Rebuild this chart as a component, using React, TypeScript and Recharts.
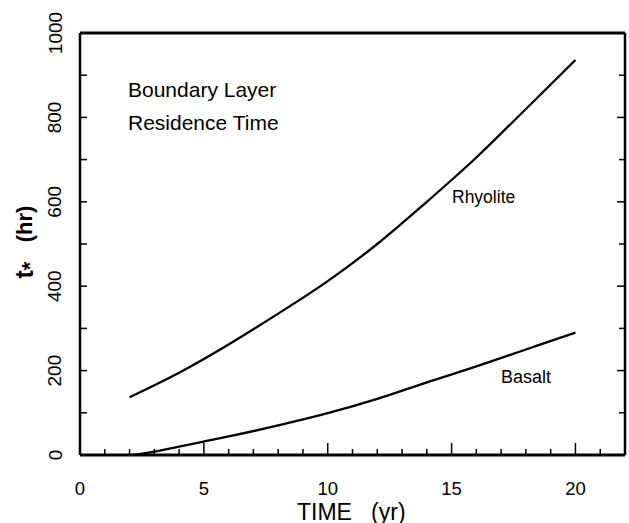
import React from 'react';
import { LineChart, Line, XAxis, YAxis, Customized } from 'recharts';

// Rhyolite curve (time in yr, t* in hr)
const rhyoliteYears = [2, 4, 6, 8, 10, 12, 14, 16, 18, 20];
const rhyoliteHours = [137, 195, 262, 335, 412, 500, 600, 705, 820, 936];

// Basalt curve
const basaltYears = [2.1, 3, 4, 5, 6, 8, 10, 12, 14, 16, 18, 20];
const basaltHours = [0, 8, 20, 32, 44, 70, 99, 133, 172, 210, 250, 290];

const xTicks = [0, 1, 2, 3, 4, 5, 6, 7, 8, 9, 10, 11, 12, 13, 14, 15, 16, 17, 18, 19, 20, 21, 22];
const yTicks = [0, 100, 200, 300, 400, 500, 600, 700, 800, 900, 1000];

const rhyoliteData = rhyoliteYears.map((x, i) => ({ x, t: rhyoliteHours[i] }));
const basaltData = basaltYears.map((x, i) => ({ x, t: basaltHours[i] }));

const FONT = 'Liberation Sans, Arial, Helvetica, sans-serif';

// layout
const W = 629;
const H = 523;
const margin = { top: 32, right: 3, bottom: 28, left: 40 };
const X_AXIS_H = 40;
const TOP_AXIS_H = 1;
const Y_AXIS_W = 40;
const RIGHT_AXIS_W = 1;
const plotLeft = margin.left + Y_AXIS_W;
const plotRight = W - margin.right - RIGHT_AXIS_W;
const plotTop = margin.top + TOP_AXIS_H;
const plotBottom = H - margin.bottom - X_AXIS_H;

// ticks point into the plot on all four sides
const BottomTick = (props: any) => {
  const { x, payload } = props;
  const major = payload.value % 5 === 0 && payload.value <= 20;
  return (
    <g>
      <line x1={x} x2={x} y1={plotBottom} y2={plotBottom - (major ? 12 : 6)} stroke="#000" strokeWidth={1.5} />
      {major && (
        <text x={x} y={plotBottom + 39.5} textAnchor="middle" fontSize={18.5} fontFamily={FONT} fill="#000">
          {payload.value}
        </text>
      )}
    </g>
  );
};

const TopTick = (props: any) => {
  const { x, payload } = props;
  const major = payload.value % 5 === 0 && payload.value <= 20;
  return <line x1={x} x2={x} y1={plotTop} y2={plotTop + (major ? 10 : 6)} stroke="#000" strokeWidth={1.5} />;
};

const LeftTick = (props: any) => {
  const { y, payload } = props;
  const major = payload.value % 200 === 0;
  const lx = plotLeft - 25;
  return (
    <g>
      <line x1={plotLeft} x2={plotLeft + 7} y1={y} y2={y} stroke="#000" strokeWidth={1.5} />
      {major && (
        <text
          x={lx}
          y={y}
          textAnchor="middle"
          dominantBaseline="central"
          fontSize={19}
          fontFamily={FONT}
          fill="#000"
          transform={`rotate(-90 ${lx} ${y})`}
        >
          {payload.value}
        </text>
      )}
    </g>
  );
};

const RightTick = (props: any) => {
  const { y, payload } = props;
  const major = payload.value % 200 === 0;
  return <line x1={plotRight} x2={plotRight - (major ? 8 : 6)} y1={y} y2={y} stroke="#000" strokeWidth={1.5} />;
};

const Annotations = () => (
  <g fontFamily={FONT} fill="#000">
    <text x={128} y={97} fontSize={21}>Boundary Layer</text>
    <text x={128} y={130} fontSize={21}>Residence Time</text>
    <text x={452} y={203} fontSize={17.5}>Rhyolite</text>
    <text x={501} y={383} fontSize={18}>Basalt</text>
    <text x={297} y={519.5} fontSize={23}>TIME&#160;&#160;&#160;(yr)</text>
    <text x={32} y={224} fontSize={22} fontWeight="bold" textAnchor="middle" transform="rotate(-90 32 224)">
      (hr)
    </text>
    <text x={33} y={270} fontSize={25} fontWeight="bold" textAnchor="middle" transform="rotate(-90 33 270)">
      t<tspan fontSize={22} dy={4}>*</tspan>
    </text>
  </g>
);

export default function App() {
  return (
    <div style={{ position: 'absolute', left: 0, top: 0, background: '#fff' }}>
      <LineChart width={W} height={H} margin={margin}>
        <XAxis
          dataKey="x"
          type="number"
          domain={[0, 22]}
          ticks={xTicks}
          interval={0}
          height={X_AXIS_H}
          tickLine={false}
          tick={<BottomTick />}
          axisLine={{ stroke: '#000', strokeWidth: 3 }}
          allowDataOverflow
        />
        <XAxis
          xAxisId="top"
          orientation="top"
          type="number"
          domain={[0, 22]}
          ticks={xTicks}
          interval={0}
          height={TOP_AXIS_H}
          tickLine={false}
          tick={<TopTick />}
          axisLine={{ stroke: '#000', strokeWidth: 3 }}
          allowDataOverflow
        />
        <YAxis
          dataKey="t"
          type="number"
          domain={[0, 1000]}
          ticks={yTicks}
          interval={0}
          width={Y_AXIS_W}
          tickLine={false}
          tick={<LeftTick />}
          axisLine={{ stroke: '#000', strokeWidth: 2.5 }}
          allowDataOverflow
        />
        <YAxis
          yAxisId="right"
          orientation="right"
          type="number"
          domain={[0, 1000]}
          ticks={yTicks}
          interval={0}
          width={RIGHT_AXIS_W}
          tickLine={false}
          tick={<RightTick />}
          axisLine={{ stroke: '#000', strokeWidth: 2.5 }}
          allowDataOverflow
        />
        <Line
          data={rhyoliteData}
          dataKey="t"
          type="monotone"
          stroke="#000"
          strokeWidth={2.3}
          dot={false}
          isAnimationActive={false}
        />
        <Line
          data={basaltData}
          dataKey="t"
          type="monotone"
          stroke="#000"
          strokeWidth={2.3}
          dot={false}
          isAnimationActive={false}
        />
        <Customized component={<Annotations />} />
      </LineChart>
    </div>
  );
}
